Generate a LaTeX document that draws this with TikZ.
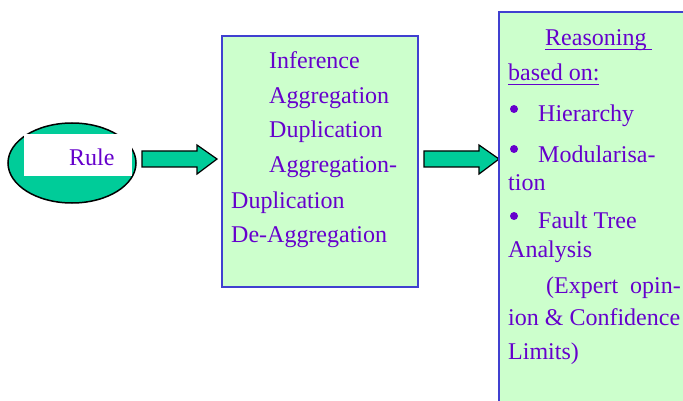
\documentclass[tikz,border=0pt]{standalone}
\usepackage{fontspec}
\setmainfont{Liberation Serif}
\definecolor{txtpurple}{RGB}{102,0,204}
\definecolor{panelgreen}{RGB}{204,255,204}
\definecolor{panelblue}{RGB}{64,64,208}
\definecolor{tealfill}{RGB}{0,204,153}
\tikzset{
  panel/.style={draw=panelblue, line width=1.3pt, fill=panelgreen},
  fatarrow/.style={draw=black, line width=1.2pt, fill=tealfill, line join=miter},
  txt/.style={anchor=base west, inner sep=0pt, text=txtpurple, font=\fontsize{24}{28}\selectfont},
  ulin/.style={draw=txtpurple, line width=1pt},
  dot/.style={circle, fill=txtpurple, inner sep=0pt, minimum size=8pt}
}
\begin{document}
\begin{tikzpicture}[x=1pt,y=-1pt]
\clip (0,0) rectangle (683,401);
\fill[white] (0,0) rectangle (683,401);

% rule ellipse with white label band
\draw[line width=1.5pt, fill=tealfill] (72,163) ellipse [x radius=64, y radius=40];
\fill[white] (24,134) rectangle (132,176);
\node[txt] (rule) at (69,166) {Rule};

% block arrows
\draw[fatarrow] (142,151) -- (197,151) -- (197,145) -- (217,159) -- (197,174) -- (197,167) -- (142,167) -- cycle;
\draw[fatarrow] (424,151) -- (479,151) -- (479,145) -- (499,159) -- (479,174) -- (479,167) -- (424,167) -- cycle;

% middle panel
\draw[panel] (222,36) rectangle (418,287);
\node[txt] (m1) at (269,68.5) {Inference};
\node[txt] (m2) at (269,104) {Aggregation};
\node[txt] (m3) at (269,138) {Duplication};
\node[txt] (m4) at (269,173) {Aggregation-};
\node[txt] (m5) at (231,208) {Duplication};
\node[txt] (m6) at (231,242) {De-Aggregation};

% right panel
\draw[panel] (499,12) rectangle (700,420);
\node[txt] (r1) at (545,46) {Reasoning};
\draw[ulin] (545,49.5) -- (652,49.5);
\node[txt] (r2) at (508,81) {based on:};
\draw[ulin] (508,84.5) -- (599,84.5);
\node[dot] (b1) at (514,109) {};
\node[txt] (r3) at (538,122) {Hierarchy};
\node[dot] (b2) at (514,149) {};
\node[txt] (r4) at (538,163) {Modularisa-};
\node[txt] (r5) at (508,190) {tion};
\node[dot] (b3) at (514,216) {};
\node[txt] (r6) at (538,229) {Fault Tree};
\node[txt] (r7) at (508,257) {Analysis};
\node[txt] (r8) at (546,293) {(Expert\ \ opin-};
\node[txt] (r9) at (508,325) {ion \& Confidence};
\node[txt] (r10) at (508,359) {Limits)};
\end{tikzpicture}
\end{document}
